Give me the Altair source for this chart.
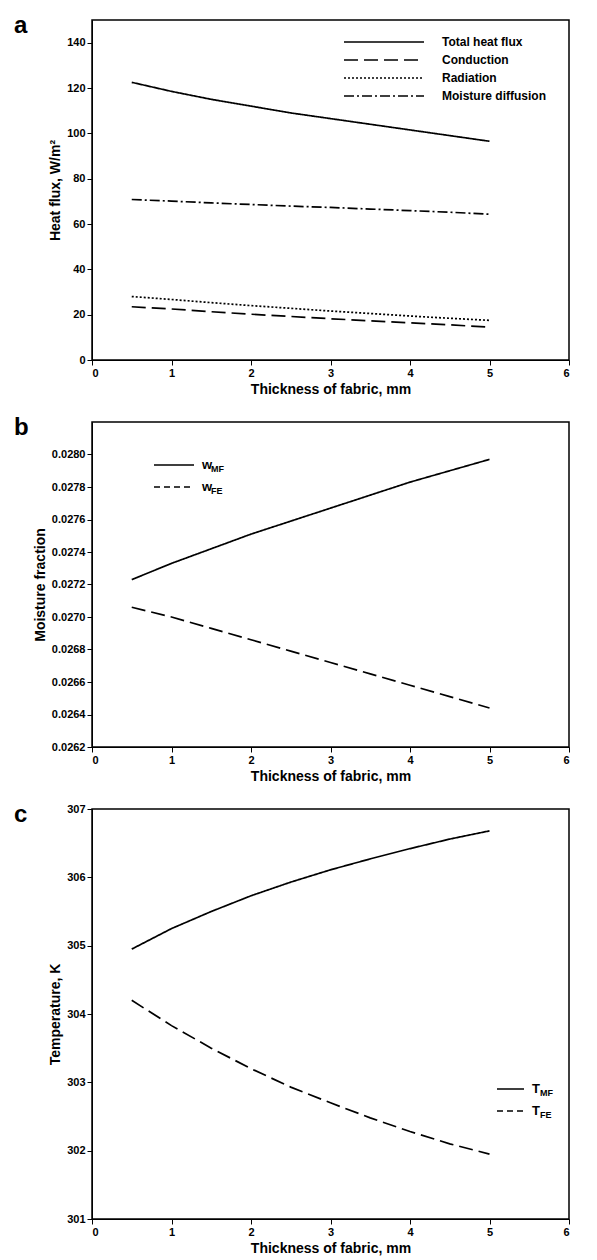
import altair as alt
import pandas as pd

x = [0.5, 1, 1.5, 2, 2.5, 3, 3.5, 4, 4.5, 5]
total = [122.5, 118.5, 115, 112, 109, 106.5, 104, 101.5, 99, 96.5]
conduction = [23.5, 22.5, 21.3, 20.2, 19.2, 18.2, 17.3, 16.4, 15.5, 14.5]
radiation = [28, 26.7, 25.3, 24, 22.8, 21.6, 20.5, 19.4, 18.4, 17.5]
moisture = [70.8, 70.1, 69.3, 68.6, 67.9, 67.3, 66.6, 65.9, 65.2, 64.3]
w_mf = [.02723, .02733, .02742, .02751, .02759, .02767, .02775, .02783, .02790, .02797]
w_fe = [.02706, .02700, .02693, .02686, .02679, .02672, .02665, .02658, .02651, .02644]
t_mf = [304.95, 305.25, 305.5, 305.73, 305.93, 306.11, 306.27, 306.42, 306.56, 306.68]
t_fe = [304.2, 303.83, 303.5, 303.2, 302.93, 302.7, 302.48, 302.28, 302.1, 301.95]

W = 477
FONT = "Liberation Sans"

def long(series):
    rows = []
    for name, vals in series:
        for xi, v in zip(x, vals):
            rows.append({"x": xi, "y": v, "s": name})
    return pd.DataFrame(rows)

def xaxis():
    return alt.X("x:Q", scale=alt.Scale(domain=[0, 6]),
                 axis=alt.Axis(values=[0, 1, 2, 3, 4, 5, 6], title="Thickness of fabric, mm",
                               grid=False))

def panel(series, dashes, ydom, yvals, ytitle, yfmt, h, label, legend):
    df = long(series)
    names = [s[0] for s in series]
    lines = alt.Chart(df).mark_line(color="black", strokeWidth=1.7).encode(
        x=xaxis(),
        y=alt.Y("y:Q", scale=alt.Scale(domain=ydom),
                axis=alt.Axis(values=yvals, title=ytitle, grid=False, format=yfmt)),
        strokeDash=alt.StrokeDash("s:N", scale=alt.Scale(domain=names, range=dashes), legend=None),
        detail="s:N",
    )
    layers = [lines]
    lab = alt.Chart(pd.DataFrame({"t": [label]})).mark_text(
        fontSize=24, fontWeight="bold", font=FONT, align="left", baseline="top", clip=False
    ).encode(x=alt.value(-78), y=alt.value(-6), text="t:N")
    layers.append(lab)
    lx0, lx1, tx, ys, main, subs, fs = legend
    for i, (d, y0) in enumerate(zip(dashes, ys)):
        layers.append(alt.Chart(pd.DataFrame({"a": [0]})).mark_rule(
            color="black", strokeWidth=1.7, strokeDash=d).encode(
            x=alt.value(lx0), x2=alt.value(lx1), y=alt.value(y0)))
        layers.append(alt.Chart(pd.DataFrame({"t": [main[i]]})).mark_text(
            fontSize=fs, fontWeight="bold", font=FONT, align="left", baseline="middle").encode(
            x=alt.value(tx), y=alt.value(y0), text="t:N"))
        if subs:
            layers.append(alt.Chart(pd.DataFrame({"t": [subs[i]]})).mark_text(
                fontSize=9, fontWeight="bold", font=FONT, align="left", baseline="middle").encode(
                x=alt.value(tx + (9 if main[i] == "w" else 8)), y=alt.value(y0 + 4), text="t:N"))
    return alt.layer(*layers).properties(width=W, height=h)

a = panel([("Total", total), ("Cond", conduction), ("Rad", radiation), ("Moist", moisture)],
          [[1, 0], [14, 6], [2, 2], [10, 3, 2, 3]], [0, 150], list(range(0, 141, 20)),
          "Heat flux, W/m²", "d", 340, "a",
          (252, 332, 350, [22, 40, 58, 76],
           ["Total heat flux", "Conduction", "Radiation", "Moisture diffusion"], None, 12))
b = panel([("MF", w_mf), ("FE", w_fe)], [[1, 0], [6, 4]], [0.0262, 0.0282],
          [0.0262 + 0.0002 * i for i in range(11)], "Moisture fraction", ".4f", 325, "b",
          (62, 102, 110, [43, 65], ["w", "w"], ["MF", "FE"], 13))
c = panel([("MF", t_mf), ("FE", t_fe)], [[1, 0], [6, 4]], [301, 307],
          [301, 302, 303, 304, 305, 306, 307], "Temperature, K", "d", 410, "c",
          (405, 432, 440, [280, 302], ["T", "T"], ["MF", "FE"], 13))

chart = alt.vconcat(a, b, c, spacing=18).configure_axis(
    labelFont=FONT, titleFont=FONT, labelFontWeight="bold", titleFontWeight="bold",
    labelFontSize=11, titleFontSize=14, labelColor="black", titleColor="black",
    domainColor="black", tickColor="black", tickSize=5
).configure_view(stroke="black", strokeWidth=1.5)

chart.save("out.html", embed_options={"renderer": "svg", "actions": False})
